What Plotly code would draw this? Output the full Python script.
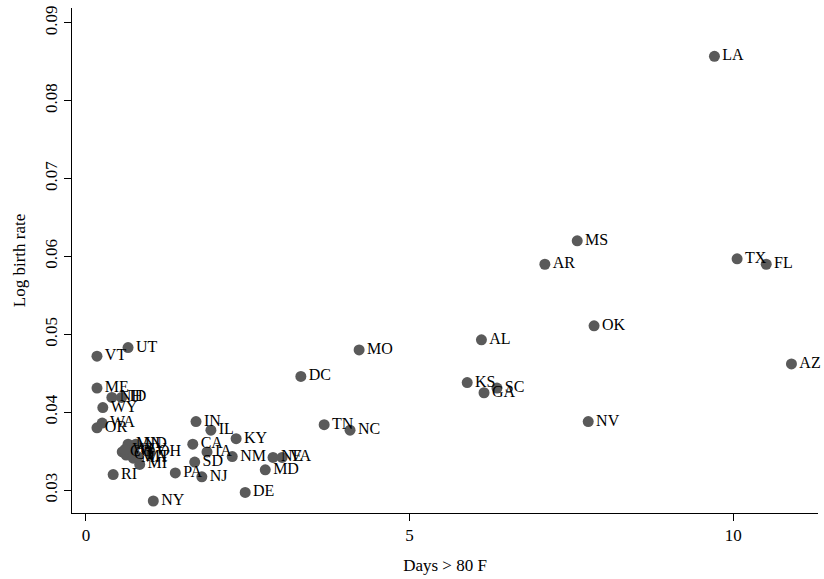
import plotly.graph_objects as go

states = ["AL","AZ","AR","CA","CO","CT","DE","DC","FL","GA","ID","IL","IN","IA","KS","KY","LA","ME","MD","MA","MI","MN","MS","MO","MT","NE","NV","NH","NJ","NM","NY","NC","ND","OH","OK","OR","PA","RI","SC","SD","TN","TX","UT","VT","VA","WA","WV","WI","WY"]
days = [6.11,10.90,7.09,1.65,0.56,0.62,2.46,3.32,10.51,6.15,0.55,1.93,1.70,1.87,5.89,2.32,9.71,0.17,2.77,0.73,0.83,0.65,7.59,4.22,0.80,2.89,7.76,0.40,1.79,2.26,1.04,4.08,0.77,0.99,7.85,0.17,1.38,0.42,6.35,1.68,3.68,10.06,0.65,0.17,3.03,0.25,0.71,0.60,0.26]
logbr = [0.0493,0.0462,0.0590,0.0359,0.0349,0.0345,0.0297,0.0446,0.0590,0.0425,0.0419,0.0377,0.0388,0.0349,0.0438,0.0366,0.0857,0.0431,0.0326,0.0341,0.0333,0.0359,0.0620,0.0480,0.0343,0.0342,0.0388,0.0419,0.0317,0.0343,0.0286,0.0377,0.0359,0.0349,0.0511,0.0380,0.0322,0.0320,0.0431,0.0336,0.0384,0.0597,0.0483,0.0472,0.0342,0.0386,0.0351,0.0352,0.0406]

xticks = [0, 5, 10]
yticks = [0.03, 0.04, 0.05, 0.06, 0.07, 0.08, 0.09]

font_family = "Liberation Serif, Times New Roman, serif"

fig = go.Figure(go.Scatter(
    x=days, y=logbr, text=states, mode="markers+text",
    textposition="middle right",
    marker=dict(size=11, color="#5a5a5a"),
    textfont=dict(family=font_family, size=16, color="black"),
    cliponaxis=False, hoverinfo="skip"
))

fig.update_layout(
    width=824, height=579,
    margin=dict(l=72, r=6, t=5, b=66),
    plot_bgcolor="white", paper_bgcolor="white",
    showlegend=False,
    font=dict(family=font_family, size=17, color="black"),
    xaxis=dict(range=[-0.216, 11.31], tickvals=xticks, ticktext=[str(v) for v in xticks],
               showline=True, linecolor="black", linewidth=1, ticks="outside",
               ticklen=7, tickcolor="black", showgrid=False, zeroline=False,
               tickfont=dict(size=17),
               title=dict(text="Days > 80 F", font=dict(size=17), standoff=14)),
    yaxis=dict(range=[0.02706, 0.0919], tickvals=yticks, ticktext=[f"{v:.2f}" for v in yticks],
               tickangle=-90,
               showline=True, linecolor="black", linewidth=1, ticks="outside",
               ticklen=7, tickcolor="black", showgrid=False, zeroline=False,
               tickfont=dict(size=17),
               title=dict(text="Log birth rate", font=dict(size=17), standoff=12)),
)

fig.write_html("out.html")
